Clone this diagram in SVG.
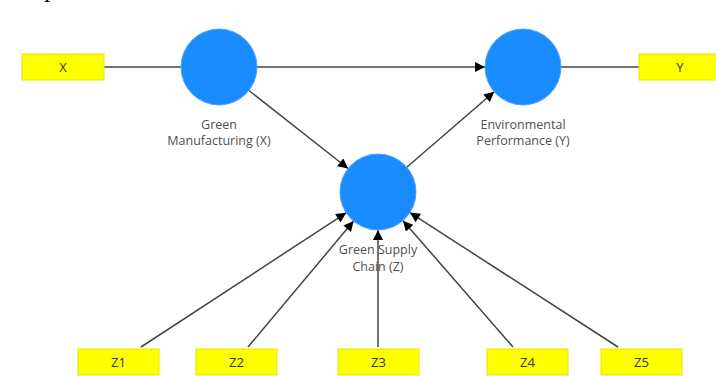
<svg xmlns="http://www.w3.org/2000/svg" width="716" height="376" viewBox="0 0 716 376">
<style>
.lat{fill:#1a8cff;stroke:#4aa3ff;stroke-width:1}
.ind{fill:#ffff00;stroke:#e6e600;stroke-width:1}
.edge{stroke:#444;stroke-width:1.5;fill:none}
.lbl{font-family:"Open Sans","Noto Sans",sans-serif;font-size:12.5px;fill:#505050;text-anchor:middle}
.box{font-family:"Open Sans","Noto Sans",sans-serif;font-size:13px;fill:#333;text-anchor:middle}
</style>
<defs>
<marker id="ah" viewBox="0 0 10 10" refX="10" refY="5" markerWidth="11" markerHeight="10" markerUnits="userSpaceOnUse" orient="auto">
<path d="M0,0 L10,5 L0,10 Z" fill="#000"/>
</marker>
</defs>
<rect width="716" height="376" fill="#fff"/>
<text x="44" y="-3" font-family="Liberation Serif,serif" font-size="26" fill="#000">p</text>
<g id="connectors">
<line class="edge" x1="104" y1="67" x2="181" y2="67"/>
<line class="edge" x1="561" y1="67" x2="639" y2="67"/>
<line class="edge" x1="257" y1="67" x2="485" y2="67" marker-end="url(#ah)"/>
<line class="edge" x1="248.9" y1="90.5" x2="348.1" y2="168.5" marker-end="url(#ah)"/>
<line class="edge" x1="406.8" y1="167.2" x2="494.2" y2="91.8" marker-end="url(#ah)"/>
<line class="edge" x1="141" y1="347" x2="346.2" y2="212.8" marker-end="url(#ah)"/>
<line class="edge" x1="248" y1="347" x2="353.6" y2="221.1" marker-end="url(#ah)"/>
<line class="edge" x1="378" y1="347" x2="378" y2="230" marker-end="url(#ah)"/>
<line class="edge" x1="513" y1="347" x2="403" y2="220.7" marker-end="url(#ah)"/>
<line class="edge" x1="618" y1="347" x2="409.9" y2="212.6" marker-end="url(#ah)"/>
</g>
<g id="gm">
<circle class="lat" cx="219" cy="67" r="38"/>
<text class="lbl" x="219" y="129">Green</text>
<text class="lbl" x="219" y="145">Manufacturing (X)</text>
</g>
<g id="ep">
<circle class="lat" cx="523" cy="67" r="38"/>
<text class="lbl" x="523" y="129">Environmental</text>
<text class="lbl" x="523" y="145">Performance (Y)</text>
</g>
<g id="gsc">
<circle class="lat" cx="378" cy="192" r="38"/>
<text class="lbl" x="378" y="254">Green Supply</text>
<text class="lbl" x="378" y="271">Chain (Z)</text>
</g>
<g id="x"><rect class="ind" x="22" y="54" width="82" height="26"/><text class="box" x="63" y="72">X</text></g>
<g id="y"><rect class="ind" x="639" y="54" width="82" height="26"/><text class="box" x="680" y="72">Y</text></g>
<g id="z1"><rect class="ind" x="78" y="349" width="81" height="26"/><text class="box" x="118.5" y="367">Z1</text></g>
<g id="z2"><rect class="ind" x="196" y="349" width="81" height="26"/><text class="box" x="236.5" y="367">Z2</text></g>
<g id="z3"><rect class="ind" x="338" y="349" width="81" height="26"/><text class="box" x="378.5" y="367">Z3</text></g>
<g id="z4"><rect class="ind" x="487" y="349" width="81" height="26"/><text class="box" x="527.5" y="367">Z4</text></g>
<g id="z5"><rect class="ind" x="601" y="349" width="81" height="26"/><text class="box" x="641.5" y="367">Z5</text></g>
</svg>
